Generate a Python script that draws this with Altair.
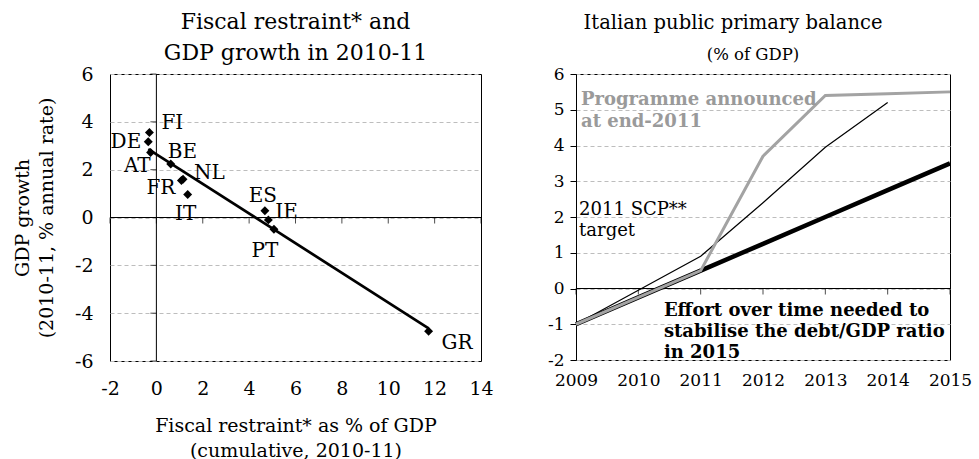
import altair as alt
import pandas as pd

FONT = "DejaVu Serif"
GRID = "#bdbdbd"
GREY = "#a3a3a3"

# Left panel: fiscal restraint vs GDP growth, 2010-11
countries = ["FI", "DE", "AT", "BE", "NL", "FR", "IT", "ES", "IE", "PT", "GR"]
restraint = [-0.3, -0.35, -0.25, 0.62, 1.15, 1.08, 1.35, 4.68, 4.83, 5.07, 11.74]
growth = [3.55, 3.17, 2.72, 2.24, 1.6, 1.55, 0.96, 0.28, -0.1, -0.49, -4.76]
x_ticks_left = [-2, 0, 2, 4, 6, 8, 10, 12, 14]
y_ticks_left = [-6, -4, -2, 0, 2, 4, 6]

# Right panel: Italian primary balance paths (% of GDP)
years = [2009, 2010, 2011, 2012, 2013, 2014, 2015]
programme = [-1.0, -0.25, 0.5, 3.7, 5.4, 5.45, 5.5]
scp_years = [2009, 2010, 2011, 2012, 2013, 2014]
scp_target = [-1.0, -0.05, 0.9, 2.4, 3.95, 5.2]
effort = [-1.0, -0.25, 0.5, 1.25, 2.0, 2.75, 3.5]
y_ticks_right = [-2, -1, 0, 1, 2, 3, 4, 5, 6]

# label placement for country codes: (align, dx, dy)
label_style = {
    "FI": ("left", 12, -10), "DE": ("right", -7, 0), "AT": ("right", 0, 14),
    "BE": ("left", -3, -12), "NL": ("left", 11, -6), "FR": ("right", -6, 8),
    "IT": ("center", -2, 19), "ES": ("center", -2, -15), "IE": ("left", 7, -8),
    "PT": ("center", -9, 22), "GR": ("left", 13, 12),
}

# plain hyphen for negative tick labels
PLAIN = "datum.value + ''"

scatter = pd.DataFrame({"country": countries, "restraint": restraint, "growth": growth})

xs_l = alt.Scale(domain=[-2, 14], nice=False, zero=False)
ys_l = alt.Scale(domain=[-6, 6], nice=False, zero=False)

x_left = alt.X(
    "restraint:Q", scale=xs_l,
    axis=alt.Axis(values=x_ticks_left, grid=False, ticks=False, domain=False,
                  labelPadding=18, labelFontSize=19, titleFontSize=19,
                  labelFlush=False, labelOverlap=False, labelExpr=PLAIN,
                  title=["Fiscal restraint* as % of GDP", "(cumulative, 2010-11)"],
                  titlePadding=18, titleLineHeight=25),
)
y_left = alt.Y(
    "growth:Q", scale=ys_l,
    axis=alt.Axis(values=y_ticks_left, grid=True, gridColor=GRID, gridDash=[4, 3],
                  ticks=False, domain=False, labelPadding=17, labelFontSize=19,
                  labelFlush=False, labelOverlap=False, labelExpr=PLAIN,
                  titleFontSize=19, title=["GDP growth", "(2010-11, % annual rate)"],
                  titlePadding=18, titleLineHeight=24),
)

points = alt.Chart(scatter).mark_point(
    shape="diamond", filled=True, size=80, color="black", opacity=1
).encode(x=x_left, y=y_left)

trend = alt.Chart(scatter).transform_regression(
    "restraint", "growth"
).mark_line(color="black", strokeWidth=2.7).encode(x=x_left, y=y_left)

zero_v = alt.Chart(pd.DataFrame({"restraint": [0]})).mark_rule(
    color="black", strokeWidth=1).encode(x=x_left)
zero_h = alt.Chart(pd.DataFrame({"growth": [0]})).mark_rule(
    color="black", strokeWidth=1).encode(y=y_left)

ticks_x_l = alt.Chart(pd.DataFrame(
    {"restraint": x_ticks_left, "growth": [0] * len(x_ticks_left)}
)).mark_tick(
    orient="vertical", size=6, thickness=1, yOffset=3, color="black"
).encode(x=x_left, y=y_left)
ticks_y_l = alt.Chart(pd.DataFrame(
    {"growth": y_ticks_left, "restraint": [0] * len(y_ticks_left)}
)).mark_tick(
    orient="horizontal", size=6, thickness=1, xOffset=-3, color="black"
).encode(x=x_left, y=y_left)

labels = []
for c in countries:
    align, dx, dy = label_style[c]
    labels.append(
        alt.Chart(scatter).transform_filter(alt.datum.country == c).mark_text(
            align=align, baseline="middle", dx=dx, dy=dy, fontSize=20,
            font=FONT, color="black"
        ).encode(x=x_left, y=y_left, text="country:N")
    )

left = alt.layer(
    points, zero_v, zero_h, ticks_x_l, ticks_y_l, trend, *labels
).properties(
    width=371, height=287,
    title=alt.TitleParams(["Fiscal restraint* and", "GDP growth in 2010-11"],
                          fontSize=22, lineHeight=31, offset=0, frame="group",
                          font=FONT, fontWeight="normal"),
)

# Right panel
xs_r = alt.Scale(domain=[2009, 2015], nice=False, zero=False)
ys_r = alt.Scale(domain=[-2, 6], nice=False, zero=False)

x_right = alt.X(
    "year:Q", scale=xs_r,
    axis=alt.Axis(values=years, format="d", grid=False, ticks=False,
                  domain=False, labelFlush=False, labelOverlap=False,
                  labelPadding=12, labelFontSize=17, title=None),
)
y_right = alt.Y(
    "value:Q", scale=ys_r,
    axis=alt.Axis(values=y_ticks_right, grid=True, gridColor=GRID,
                  gridDash=[4, 3], ticks=True, tickSize=6, tickColor="black",
                  domain=True, labelFlush=False, labelOverlap=False,
                  labelExpr=PLAIN, domainColor="black", labelPadding=6,
                  labelFontSize=17, title=None),
)

prog_df = pd.DataFrame({"year": years, "value": programme})
scp_df = pd.DataFrame({"year": scp_years, "value": scp_target})
eff_df = pd.DataFrame({"year": years, "value": effort})

eff_line = alt.Chart(eff_df).mark_line(color="black", strokeWidth=4.5).encode(
    x=x_right, y=y_right)
prog_line = alt.Chart(prog_df).mark_line(color=GREY, strokeWidth=3).encode(
    x=x_right, y=y_right)
scp_line = alt.Chart(scp_df).mark_line(color="black", strokeWidth=1.2).encode(
    x=x_right, y=y_right)

zero_r = alt.Chart(pd.DataFrame({"value": [0]})).mark_rule(
    color="black", strokeWidth=1).encode(y=y_right)
ticks_x_r = alt.Chart(pd.DataFrame(
    {"year": years, "value": [0] * len(years)}
)).mark_tick(
    orient="vertical", size=6, thickness=1, yOffset=3, color="black"
).encode(x=x_right, y=y_right)


def note(lines, x, y, bold, color, line_height):
    return alt.Chart(pd.DataFrame({"year": [x], "value": [y]})).mark_text(
        align="left", baseline="alphabetic", fontSize=18,
        fontWeight="bold" if bold else "normal", font=FONT, color=color,
        lineHeight=line_height, text=lines,
    ).encode(x=x_right, y=y_right)


note_prog = note(["Programme announced", "at end-2011"], 2009.08, 5.13,
                 True, "#9a9a9a", 22)
note_scp = note(["2011 SCP**", "target"], 2009.05, 2.05, False, "black", 21)
note_eff = note(["Effort over time needed to", "stabilise the debt/GDP ratio",
                 "in 2015"], 2010.41, -0.78, True, "black", 21)

subtitle_r = alt.Chart(pd.DataFrame({"t": [0]})).mark_text(
    align="center", baseline="alphabetic", fontSize=16.5, font=FONT,
    color="black", text="(% of GDP)",
).encode(x=alt.value(177), y=alt.value(-14))

right = alt.layer(
    eff_line, zero_r, ticks_x_r, scp_line, prog_line,
    note_prog, note_scp, note_eff, subtitle_r
).properties(
    width=374, height=286,
    title=alt.TitleParams("Italian public primary balance", fontSize=19.5,
                          offset=14, dx=-30, frame="group",
                          font=FONT, fontWeight="normal"),
)

chart = alt.hconcat(left, right, spacing=52).properties(
    padding={"left": 12, "top": 10, "right": 5, "bottom": 5}
).configure(font=FONT).configure_view(
    stroke="black", strokeWidth=1
).configure_axis(
    labelFont=FONT, titleFont=FONT, labelColor="black", titleColor="black",
    titleFontWeight="normal"
).configure_title(color="black", anchor="middle")

chart.save("out.html", embed_options={"renderer": "svg", "actions": False})
